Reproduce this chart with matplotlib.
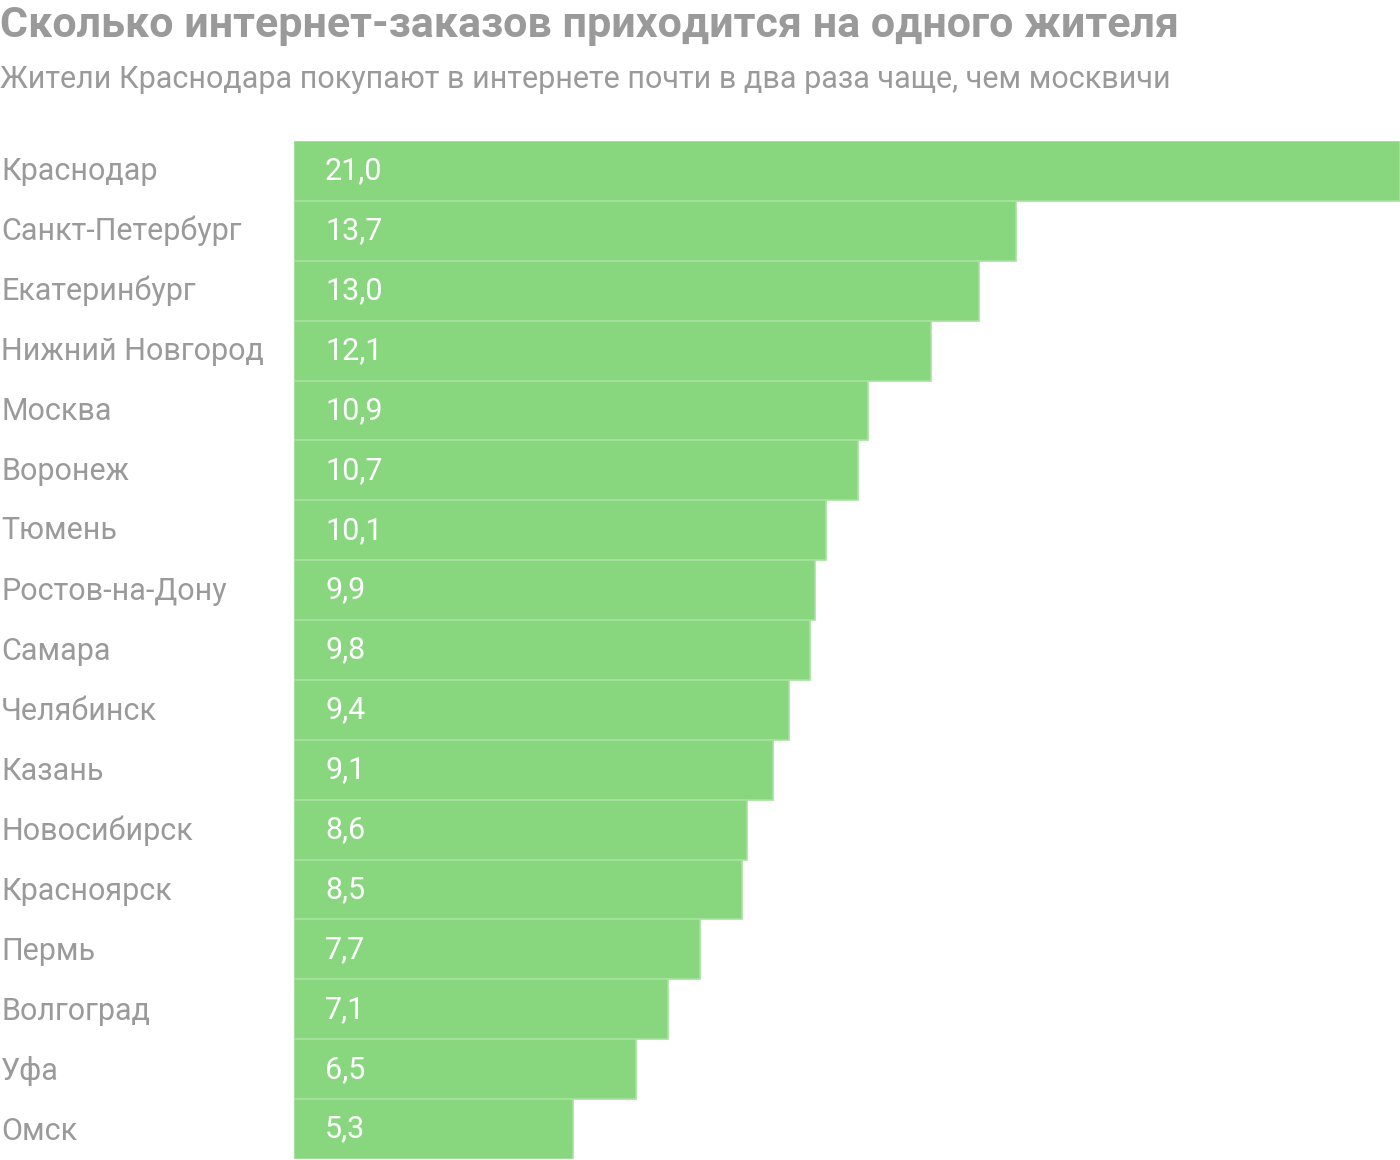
import matplotlib.pyplot as plt

plt.rcParams['font.family'] = ['Roboto', 'DejaVu Sans']

TITLE = "Сколько интернет-заказов приходится на одного жителя"
SUBTITLE = "Жители Краснодара покупают в интернете почти в два раза чаще, чем москвичи"

cities = [
    "Краснодар", "Санкт-Петербург", "Екатеринбург", "Нижний Новгород",
    "Москва", "Воронеж", "Тюмень", "Ростов-на-Дону", "Самара", "Челябинск",
    "Казань", "Новосибирск", "Красноярск", "Пермь", "Волгоград", "Уфа", "Омск",
]
orders = [21.0, 13.7, 13.0, 12.1, 10.9, 10.7, 10.1, 9.9, 9.8, 9.4,
          9.1, 8.6, 8.5, 7.7, 7.1, 6.5, 5.3]

BAR = '#88d77f'
EDGE = '#a6e39e'
GREY = '#9a9a9a'

fig = plt.figure(figsize=(14, 11.6), dpi=100)
ax = fig.add_axes([294 / 1400, 1 / 1160, (1400 - 294) / 1400, (1159 - 141) / 1160])

ys = list(range(len(cities)))
ax.barh(ys, orders, height=1.0, color=BAR, edgecolor=EDGE, linewidth=1.2)
ax.set_xlim(0, 21)
ax.set_ylim(len(cities) - 0.5, -0.5)
ax.axis('off')

for y, v, name in zip(ys, orders, cities):
    ax.text(0.59, y, f"{v:.1f}".replace('.', ','), color='white',
            fontsize=22, va='center', ha='left')
    fig.text(1 / 1400, 1 - (141 + 60 * y + 30) / 1160, name, color=GREY,
             fontsize=22, va='center', ha='left')

fig.text(0, 1 - 26 / 1160, TITLE, color=GREY, fontsize=31, fontweight='bold',
         va='center', ha='left')
fig.text(0, 1 - 79 / 1160, SUBTITLE, color=GREY, fontsize=22,
         va='center', ha='left')

fig.savefig('out.png', dpi=100, facecolor='white')
